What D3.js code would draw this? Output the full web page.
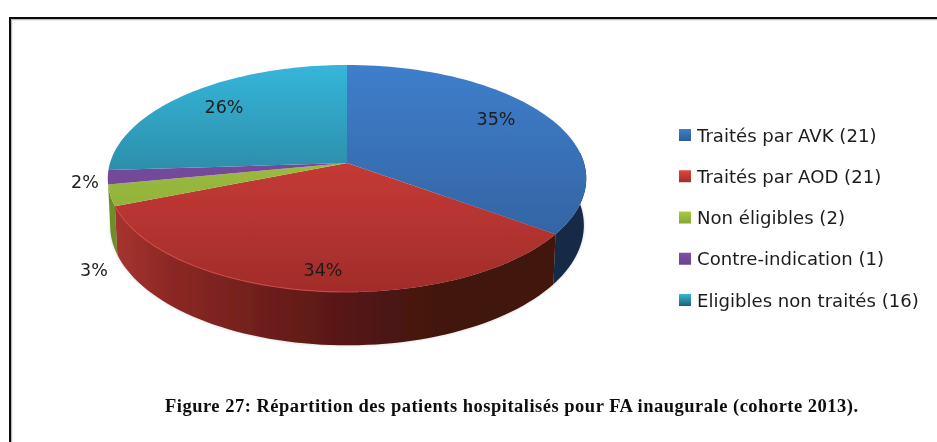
<!DOCTYPE html>
<html><head><meta charset="utf-8">
<script src="https://cdn.jsdelivr.net/npm/d3@7/dist/d3.min.js"></script>
<style>html,body{margin:0;padding:0;background:#fff}svg{display:block}</style>
</head><body><svg id="c" width="937" height="442"></svg>
<script>
const categories = ["Traités par AVK (21)","Traités par AOD (21)","Non éligibles (2)","Contre-indication (1)","Eligibles non traités (16)"];
const percents = [35,34,3,2,26];
const percentLabels = ["35%","34%","3%","2%","26%"];
const topLight = ["#3f7ecb","#e0453f","#a8cc42","#7f4fa3","#35b6da"];
const topDark  = ["#2f5c98","#a12c2a","#86a436","#6a4290","#226073"];
const caption = "Figure 27: Répartition des patients hospitalisés pour FA inaugurale (cohorte 2013).";

const svg = d3.select("#c");
const defs = svg.append("defs");
const blur = defs.append("filter").attr("id","soft").attr("x","-5%").attr("y","-5%").attr("width","110%").attr("height","110%");
blur.append("feGaussianBlur").attr("stdDeviation",0.6);
const shadow = defs.append("filter").attr("id","shadow").attr("x","-5%").attr("y","-5%").attr("width","110%").attr("height","115%");
shadow.append("feGaussianBlur").attr("stdDeviation",1.6);

// perspective projection of the pie's unit disc
const cx=347, cy=163, R=237, H=111.4, K=0.1366, D=46, shrink=0.99;
const project = (a,r=1,low=false)=>{
  const u=Math.sin(a)*r, v=-Math.cos(a)*r, s=1/(1-K*v);
  const x=R*u*s, y=H*v*s;
  return low ? [cx+x*shrink, cy+y+D*s] : [cx+x, cy+y];
};
const line=d3.line();
const steps=(a0,a1)=>d3.range(0,65).map(i=>d3.interpolateNumber(a0,a1)(i/64));

const arcs=d3.pie().value(d=>d).sort(null)(percents);

// frame (top and left only)
svg.append("path").attr("d","M937,19.5H11.5V442").attr("fill","none").attr("stroke","#bbb").attr("stroke-width",1.5);
svg.append("path").attr("d","M937,18H10V442").attr("fill","none").attr("stroke","#0a0a0a").attr("stroke-width",2);

const xg=d3.scaleLinear().domain([107,586]).range([0,1]);
const addV=(id,c0,c1)=>{const g=defs.append("linearGradient").attr("id",id).attr("gradientUnits","userSpaceOnUse")
  .attr("x1",0).attr("x2",0).attr("y1",65).attr("y2",292);
  g.append("stop").attr("offset",0).attr("stop-color",c0);
  g.append("stop").attr("offset",1).attr("stop-color",c1);};
arcs.forEach((d,i)=>addV("top"+i,topLight[i],topDark[i]));

const wallG=defs.append("linearGradient").attr("id","wallRed").attr("gradientUnits","userSpaceOnUse")
  .attr("x1",107).attr("x2",586).attr("y1",0).attr("y2",0);
[[107,"#ab3532"],[170,"#8c2825"],[260,"#701f1c"],[350,"#551714"],[440,"#421210"],[560,"#3f120e"]]
  .forEach(s=>wallG.append("stop").attr("offset",xg(s[0])).attr("stop-color",s[1]));

const chart=svg.append("g");
const wallColors=["#142b47","url(#wallRed)","#6d8f2c"];
const sh=d3.range(0,65).map(i=>d3.interpolateNumber(Math.PI*0.45,Math.PI*1.5)(i/64));
chart.append("path").attr("d",line(sh.map(a=>project(a,1,true)))+"Z").attr("fill","#999").attr("opacity",0.5).attr("filter","url(#shadow)");

const soft=chart.append("g").attr("filter","url(#soft)");
[[0],[1],[2]].forEach(([i])=>{
  const d=arcs[i];
  // only the visible front part of each wall
  const a0=Math.max(d.startAngle,Math.PI*0.47), a1=Math.min(d.endAngle,Math.PI*1.47);
  const top=steps(a0,a1).map(a=>project(a));
  const low=steps(a1,a0).map(a=>project(a,1,true));
  soft.append("path").attr("d",line(top.concat(low))+"Z").attr("fill",wallColors[i]);
});
arcs.forEach((d,i)=>{
  const pts=[[cx,cy]].concat(steps(d.startAngle,d.endAngle).map(a=>project(a)));
  soft.append("path").attr("d",line(pts)+"Z").attr("fill",`url(#top${i})`);
});
// light rim along the front edge of the red slice
soft.append("path").attr("d",line(steps(arcs[1].startAngle+0.9,arcs[1].endAngle).map(a=>project(a))))
  .attr("fill","none").attr("stroke","#d24a44").attr("stroke-width",1.2).attr("opacity",0.8);

// labels
const labelFont="'DejaVu Sans',sans-serif";
const labelPos=[[496,119],[323,270],[94,270],[85,182],[224,107]];
const textG=svg.append("g").attr("filter","url(#soft)");
textG.selectAll("text.p").data(percentLabels).join("text").attr("class","p")
  .attr("x",(d,i)=>labelPos[i][0]).attr("y",(d,i)=>labelPos[i][1]).attr("dy","0.36em")
  .attr("text-anchor","middle").attr("font-family",labelFont).attr("font-size",17.5).attr("fill","#1c1c1c").text(d=>d);

// legend
const legendY=d3.scalePoint().domain(categories).range([135,300]);
const lg=svg.append("g").attr("filter","url(#soft)");
const item=lg.selectAll("g").data(categories).join("g").attr("transform",d=>`translate(679,${legendY(d)})`);
arcs.forEach((d,i)=>{
  const g=defs.append("linearGradient").attr("id","leg"+i).attr("x1",0).attr("x2",0).attr("y1",0).attr("y2",1);
  g.append("stop").attr("offset",0).attr("stop-color",topLight[i]);
  g.append("stop").attr("offset",1).attr("stop-color",topDark[i]);
});
item.append("rect").attr("x",0).attr("y",-6).attr("width",12).attr("height",12).attr("fill",(d,i)=>`url(#leg${i})`);
item.append("text").attr("x",18).attr("dy","0.36em").attr("font-family",labelFont).attr("font-size",18.1).attr("fill","#1c1c1c").text(d=>d);

// caption
svg.append("text").attr("x",165).attr("y",412).attr("font-family","'Liberation Serif',serif").attr("font-weight","bold")
  .attr("font-size",18.5).attr("letter-spacing",0.5).attr("fill","#111").attr("filter","url(#soft)").text(caption);
</script></body></html>
